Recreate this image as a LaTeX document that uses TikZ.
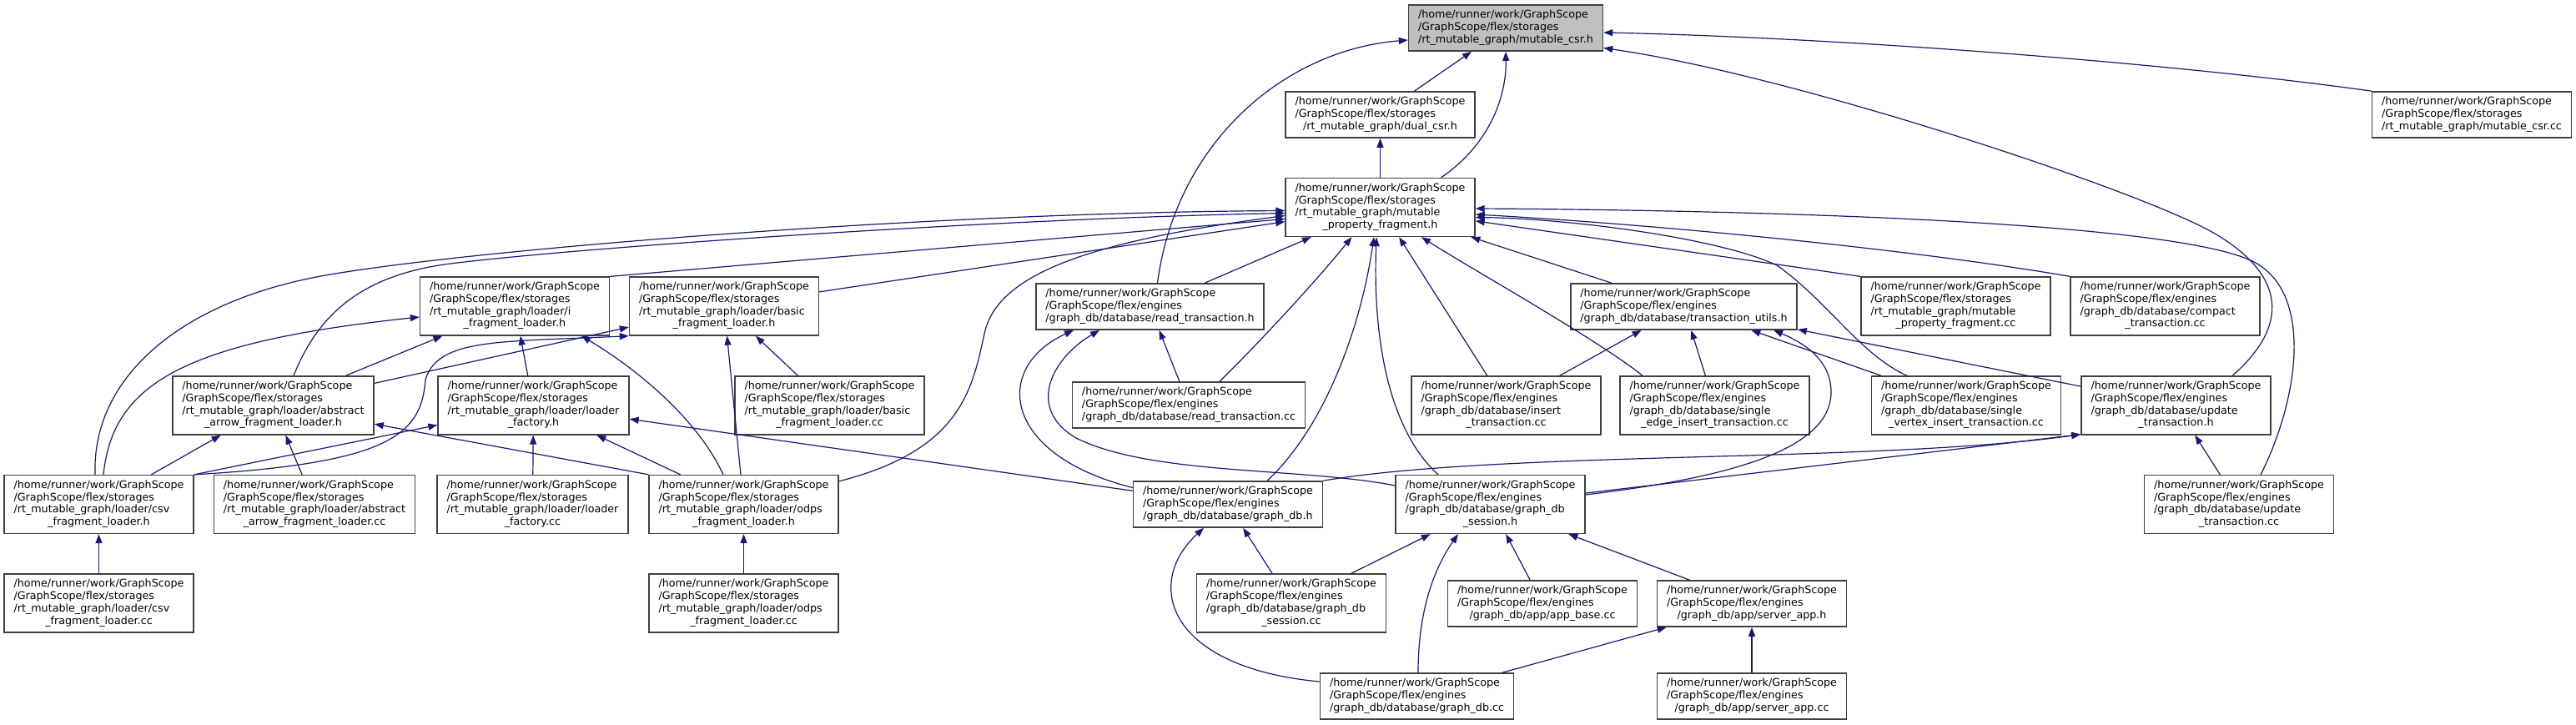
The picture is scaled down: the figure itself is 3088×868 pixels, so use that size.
\documentclass[tikz,border=0pt]{standalone}
\usepackage{fontspec}
\setmainfont{DejaVu Sans}
\usetikzlibrary{arrows.meta,calc}

\definecolor{depblue}{HTML}{191970}
\definecolor{boxline}{HTML}{404040}
\definecolor{focusgray}{HTML}{BFBFBF}

% file label: left aligned lines, last line centred
\newcommand{\flabel}[2]{\begin{tabular}{@{}l@{}}#1\\\multicolumn{1}{@{}c@{}}{#2}\end{tabular}}
\newcommand{\gsstor}{/home/runner/work/GraphScope\\/GraphScope/flex/storages}
\newcommand{\gseng}{/home/runner/work/GraphScope\\/GraphScope/flex/engines}

\begin{document}
\begin{tikzpicture}
  [x=1pt, y=-1pt,
   fnode/.style={draw=boxline, line width=1.5pt, fill=white, inner xsep=11.5pt, inner ysep=5.5pt,
                 font=\fontsize{12.7}{14.7}\selectfont},
   fmain/.style={fnode, fill=focusgray},
   dep/.style={draw=depblue, line width=1.2pt, -{Triangle[length=11pt,width=8pt]}}]

  \useasboundingbox (0,0) rectangle (3088,868);

  \node[fmain] (csr) at (1805,33.5) {\flabel{\gsstor}{/rt\_mutable\_graph/mutable\_csr.h}};
  \node[fnode] (dualcsr) at (1654.5,137.5) {\flabel{\gsstor}{/rt\_mutable\_graph/dual\_csr.h}};
  \node[fnode] (csrcc) at (2963,137.5) {\flabel{\gsstor}{/rt\_mutable\_graph/mutable\_csr.cc}};
  \node[fnode] (mpf) at (1654.5,248.5) {\flabel{\gsstor\\/rt\_mutable\_graph/mutable}{\_property\_fragment.h}};

  \node[fnode] (ifl) at (617,367) {\flabel{\gsstor\\/rt\_mutable\_graph/loader/i}{\_fragment\_loader.h}};
  \node[fnode] (bfl) at (868,367) {\flabel{\gsstor\\/rt\_mutable\_graph/loader/basic}{\_fragment\_loader.h}};
  \node[fnode] (rth) at (1378.5,367.5) {\flabel{\gseng}{/graph\_db/database/read\_transaction.h}};
  \node[fnode] (tu) at (2018.5,367.5) {\flabel{\gseng}{/graph\_db/database/transaction\_utils.h}};
  \node[fnode] (mpfcc) at (2344.5,367) {\flabel{\gsstor\\/rt\_mutable\_graph/mutable}{\_property\_fragment.cc}};
  \node[fnode] (compact) at (2595.5,367) {\flabel{\gseng\\/graph\_db/database/compact}{\_transaction.cc}};

  \node[fnode] (aafl) at (327.5,486) {\flabel{\gsstor\\/rt\_mutable\_graph/loader/abstract}{\_arrow\_fragment\_loader.h}};
  \node[fnode] (lfh) at (639.5,486) {\flabel{\gsstor\\/rt\_mutable\_graph/loader/loader}{\_factory.h}};
  \node[fnode] (bflcc) at (994.5,486) {\flabel{\gsstor\\/rt\_mutable\_graph/loader/basic}{\_fragment\_loader.cc}};
  \node[fnode] (rtcc) at (1425,485.5) {\flabel{\gseng}{/graph\_db/database/read\_transaction.cc}};
  \node[fnode] (insert) at (1805.5,486) {\flabel{\gseng\\/graph\_db/database/insert}{\_transaction.cc}};
  \node[fnode] (sedge) at (2055.5,486) {\flabel{\gseng\\/graph\_db/database/single}{\_edge\_insert\_transaction.cc}};
  \node[fnode] (svertex) at (2357,486) {\flabel{\gseng\\/graph\_db/database/single}{\_vertex\_insert\_transaction.cc}};
  \node[fnode] (uth) at (2608.5,486) {\flabel{\gseng\\/graph\_db/database/update}{\_transaction.h}};

  \node[fnode] (csvh) at (118.5,604.5) {\flabel{\gsstor\\/rt\_mutable\_graph/loader/csv}{\_fragment\_loader.h}};
  \node[fnode] (aaflcc) at (377,604.5) {\flabel{\gsstor\\/rt\_mutable\_graph/loader/abstract}{\_arrow\_fragment\_loader.cc}};
  \node[fnode] (lfcc) at (638.5,604.5) {\flabel{\gsstor\\/rt\_mutable\_graph/loader/loader}{\_factory.cc}};
  \node[fnode] (odpsh) at (891.5,604.5) {\flabel{\gsstor\\/rt\_mutable\_graph/loader/odps}{\_fragment\_loader.h}};
  \node[fnode] (gdbh) at (1472,604.5) {\flabel{\gseng}{/graph\_db/database/graph\_db.h}};
  \node[fnode] (sessh) at (1786.5,604.5) {\flabel{\gseng\\/graph\_db/database/graph\_db}{\_session.h}};
  \node[fnode] (utcc) at (2684,604.5) {\flabel{\gseng\\/graph\_db/database/update}{\_transaction.cc}};

  \node[fnode] (csvcc) at (118.5,723) {\flabel{\gsstor\\/rt\_mutable\_graph/loader/csv}{\_fragment\_loader.cc}};
  \node[fnode] (odpscc) at (891.5,723) {\flabel{\gsstor\\/rt\_mutable\_graph/loader/odps}{\_fragment\_loader.cc}};
  \node[fnode] (sesscc) at (1548,723) {\flabel{\gseng\\/graph\_db/database/graph\_db}{\_session.cc}};
  \node[fnode] (appbase) at (1849,723.5) {\flabel{\gseng}{/graph\_db/app/app\_base.cc}};
  \node[fnode] (serverh) at (2100,723.5) {\flabel{\gseng}{/graph\_db/app/server\_app.h}};

  \node[fnode] (gdbcc) at (1698.5,834.5) {\flabel{\gseng}{/graph\_db/database/graph\_db.cc}};
  \node[fnode] (servercc) at (2100,834.5) {\flabel{\gseng}{/graph\_db/app/server\_app.cc}};

  % straight includes
  \foreach \from/\to in {dualcsr/csr, mpf/dualcsr, bfl/mpf, rth/mpf, insert/mpf, tu/mpf,
      insert/tu, sedge/tu, svertex/tu, uth/tu, rtcc/rth, sesscc/gdbh, sesscc/sessh,
      appbase/sessh, serverh/sessh, gdbcc/serverh, servercc/serverh, utcc/uth,
      gdbh/lfh, lfcc/lfh, odpsh/lfh, csvh/aafl, aaflcc/aafl, aafl/ifl, lfh/ifl,
      aafl/bfl, odpsh/bfl, bflcc/bfl, csvcc/csvh, odpscc/odpsh}
    \draw[dep] (\from) -- (\to);

  % curved includes
  \draw[dep] ($(mpf.north)+(73,0)$) .. controls (1790,170) and (1806,110) .. (csr.south);
  \draw[dep] ($(rth.north)+(9,0)$) .. controls (1410,170) and (1540,60) .. ($(csr.west)+(0,14.5)$);
  \draw[dep] (csrcc.north west) .. controls (2600,75) and (2200,45) .. ($(csr.east)+(0,5.5)$);
  \draw[dep] ($(uth.north)+(67.5,0)$) .. controls (2745,390) and (2740,330) .. (2655,280)
    .. controls (2570,230) and (2150,90) .. ($(csr.east)+(0,24)$);

  \draw[dep] ($(csvh.north)+(-4.5,0)$) .. controls (110,450) and (220,360) .. (390,330)
    .. controls (560,300) and (1100,255) .. ($(mpf.west)+(0,4)$);
  \draw[dep] ($(aafl.north)+(24.5,0)$) .. controls (380,380) and (430,330) .. (540,316)
    .. controls (700,296) and (1200,262) .. ($(mpf.west)+(0,7)$);
  \draw[dep] (ifl.north east) -- ($(mpf.west)+(0,14)$);
  \draw[dep] ($(odpsh.north east)+(0,8)$) .. controls (1150,540) and (1165,470) .. (1180,400)
    .. controls (1195,330) and (1300,290) .. ($(mpf.west)+(0,10)$);
  \draw[dep] ($(rtcc.north)+(37,0)$) .. controls (1510,410) and (1575,340) .. ($(mpf.south)+(-34,0)$);
  \draw[dep] ($(gdbh.north)+(47,0)$) .. controls (1585,515) and (1630,400) .. ($(mpf.south)+(-7.5,0)$);
  \draw[dep] ($(sessh.north)+(-62.5,0)$) .. controls (1670,520) and (1645,420) .. ($(mpf.south)+(-4.5,0)$);
  \draw[dep] ($(sedge.north)+(-86.5,0)$) .. controls (1920,410) and (1760,320) .. ($(mpf.south)+(49.5,0)$);
  \draw[dep] ($(utcc.north)+(26,0)$) .. controls (2755,480) and (2775,350) .. (2700,313)
    .. controls (2600,265) and (2100,252) .. ($(mpf.east)+(0,1.5)$);
  \draw[dep] (compact.north west) .. controls (2300,300) and (2000,270) .. ($(mpf.east)+(0,8.5)$);
  \draw[dep] ($(svertex.north)+(-71,0)$) .. controls (2230,425) and (2190,360) .. (2130,318)
    .. controls (2060,285) and (1880,262) .. ($(mpf.east)+(0,12)$);
  \draw[dep] (mpfcc.north west) -- (mpf);

  \draw[dep] ($(sessh.east)+(0,-11.5)$) .. controls (2050,575) and (2195,545) .. (2195,470)
    .. controls (2195,430) and (2160,410) .. ($(tu.south)+(107.5,0)$);

  \draw[dep] ($(gdbh.west)+(0,-20)$) .. controls (1200,545) and (1190,440) .. ($(rth.south)+(-91.5,0)$);
  \draw[dep] ($(sessh.west)+(0,-22.5)$) .. controls (1560,560) and (1380,570) .. (1290,525)
    .. controls (1230,490) and (1260,430) .. ($(rth.south)+(-60.5,0)$);

  \draw[dep] ($(gdbcc.west)+(0,-17.5)$) .. controls (1400,800) and (1370,700) .. ($(gdbh.south)+(-29,0)$);
  \draw[dep] ($(gdbcc.north)+(1.5,0)$) .. controls (1700,730) and (1720,680) .. ($(sessh.south)+(-38.5,0)$);

  \draw[dep] (gdbh.north east) .. controls (1800,540) and (2250,555) .. ($(uth.south west)+(0,-1)$);
  \draw[dep] (sessh) -- ($(uth.south west)+(0,-1)$);

  \draw[dep] (odpsh.north west) -- (aafl);
  \draw[dep] (csvh.north east) -- (lfh);
  \draw[dep] ($(csvh.north)+(5.5,0)$) .. controls (135,460) and (220,410) .. ($(ifl.west)+(0,13)$);
  \draw[dep] ($(odpsh.north)+(-24.5,0)$) .. controls (835,500) and (760,440) .. ($(ifl.south)+(80,0)$);
  \draw[dep] (csvh.north east) .. controls (470,555) and (505,520) .. (510,455)
    .. controls (525,405) and (600,410) .. (bfl.south west);
\end{tikzpicture}
\end{document}
